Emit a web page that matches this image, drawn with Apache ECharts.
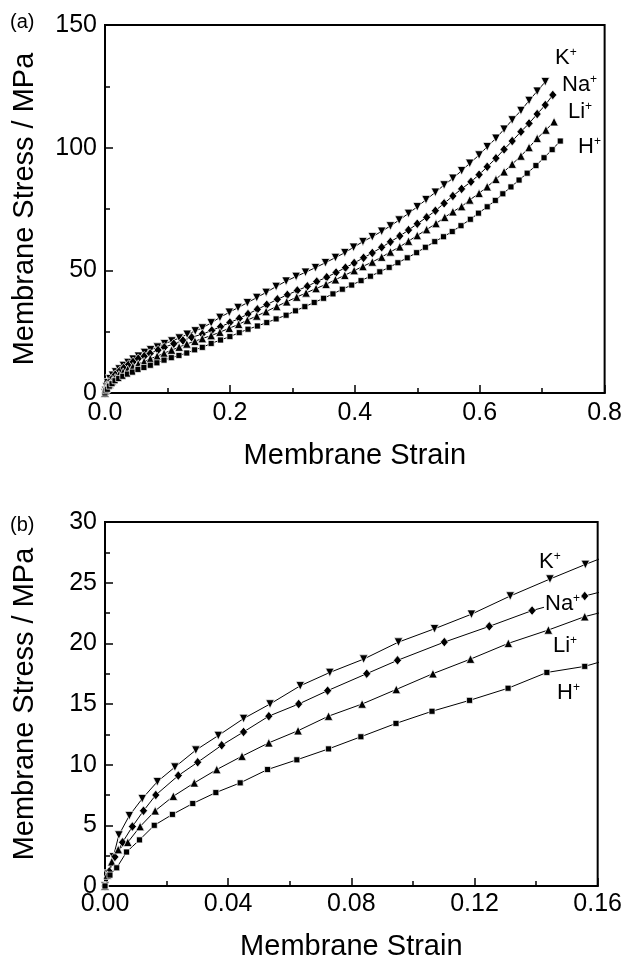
<!DOCTYPE html>
<html><head><meta charset="utf-8">
<script src="https://cdn.jsdelivr.net/npm/echarts@6/dist/echarts.min.js"></script>
<style>html,body{margin:0;padding:0;background:#fff}#c{width:625px;height:962px}</style>
</head><body><div id="c"></div>
<script>
// ---- Data: panel (a) [strain, stress MPa] ----
const topK = [[0,0],[0.001,1.0],[0.0027,2.4],[0.0045,4.2],[0.0079,5.8],[0.0121,7.2],[0.017,8.6],[0.0227,9.8],[0.0295,11.2],[0.0368,12.4],[0.045,13.8],[0.0536,15.0],[0.0634,16.5],[0.073,17.6],[0.084,18.7],[0.0953,20.1],[0.107,21.2],[0.119,22.4],[0.1316,23.9],[0.1445,25.3],[0.156,26.5],[0.17,28.6],[0.184,30.8],[0.199,32.9],[0.213,34.8],[0.228,36.8],[0.243,38.9],[0.258,41.0],[0.274,43.4],[0.29,45.6],[0.306,47.5],[0.321,49.2],[0.337,51.1],[0.353,53.1],[0.369,55.2],[0.384,57.2],[0.398,59.4],[0.413,61.7],[0.428,63.7],[0.443,65.9],[0.457,68.1],[0.471,70.5],[0.486,73.2],[0.5,75.9],[0.514,78.8],[0.529,81.8],[0.543,84.8],[0.557,87.5],[0.571,90.6],[0.584,93.6],[0.599,97.0],[0.612,100.4],[0.626,103.8],[0.639,107.5],[0.652,111.3],[0.666,115.1],[0.679,119.2],[0.692,123.0],[0.705,126.9]];
const topNa = [[0,0],[0.0014,1.2],[0.0032,2.4],[0.0057,3.6],[0.0089,4.9],[0.0125,6.2],[0.0165,7.5],[0.0238,9.1],[0.0301,10.2],[0.0379,11.6],[0.045,12.7],[0.0532,14.0],[0.0629,15.0],[0.0723,16.1],[0.085,17.5],[0.095,18.6],[0.1102,20.1],[0.1248,21.4],[0.1387,22.7],[0.1558,24.0],[0.171,25.5],[0.185,27.0],[0.2,28.7],[0.215,30.4],[0.229,32.2],[0.244,34.1],[0.259,36.0],[0.276,38.2],[0.292,40.0],[0.308,41.8],[0.324,43.5],[0.339,45.4],[0.355,47.2],[0.37,49.1],[0.385,51.1],[0.399,53.0],[0.414,55.1],[0.428,57.1],[0.443,59.4],[0.457,61.6],[0.472,64.0],[0.486,66.4],[0.5,69.0],[0.515,71.6],[0.529,74.3],[0.543,77.3],[0.557,80.3],[0.571,83.2],[0.586,86.1],[0.599,89.0],[0.612,92.2],[0.626,95.7],[0.639,99.3],[0.652,102.7],[0.666,106.5],[0.679,109.9],[0.692,113.7],[0.705,117.4],[0.717,121.5]];
const topLi = [[0,0],[0.0008,0.9],[0.0022,2.0],[0.0043,3.0],[0.0074,3.6],[0.0114,4.9],[0.0163,6.2],[0.0222,7.4],[0.029,8.5],[0.0363,9.6],[0.0445,10.7],[0.0532,11.8],[0.0627,12.8],[0.0726,14.0],[0.0835,15.0],[0.0946,16.2],[0.1065,17.5],[0.1187,18.7],[0.131,20.0],[0.144,21.1],[0.1558,22.2],[0.17,23.4],[0.184,24.8],[0.199,26.4],[0.214,28.0],[0.228,29.7],[0.243,31.4],[0.258,33.2],[0.275,35.3],[0.291,37.2],[0.307,39.1],[0.322,40.8],[0.338,42.6],[0.354,44.3],[0.369,46.2],[0.384,48.0],[0.399,49.9],[0.413,51.6],[0.428,53.4],[0.443,55.4],[0.457,57.5],[0.472,59.6],[0.486,61.9],[0.5,64.2],[0.515,66.6],[0.53,69.1],[0.544,71.6],[0.557,73.9],[0.571,76.0],[0.584,78.7],[0.599,81.4],[0.612,84.1],[0.626,87.1],[0.639,90.2],[0.652,93.3],[0.666,96.6],[0.679,100.1],[0.692,103.8],[0.706,107.2],[0.719,110.6]];
const topH = [[0,0],[0.0016,0.9],[0.0038,1.5],[0.007,2.8],[0.0112,3.8],[0.016,5.0],[0.0219,5.9],[0.0285,6.8],[0.036,7.7],[0.0439,8.5],[0.0528,9.6],[0.0623,10.4],[0.0726,11.3],[0.0831,12.3],[0.0945,13.4],[0.1062,14.4],[0.1184,15.3],[0.1309,16.3],[0.1435,17.6],[0.1558,18.6],[0.17,20.2],[0.185,21.6],[0.2,23.0],[0.215,24.6],[0.229,26.0],[0.244,27.3],[0.259,28.7],[0.274,30.2],[0.29,31.7],[0.305,33.5],[0.32,35.2],[0.335,36.9],[0.35,38.6],[0.365,40.4],[0.38,42.3],[0.395,44.0],[0.41,45.8],[0.425,47.6],[0.44,49.4],[0.455,51.2],[0.469,53.1],[0.484,55.1],[0.499,57.2],[0.513,59.4],[0.528,61.7],[0.542,63.7],[0.556,65.8],[0.57,68.2],[0.585,70.8],[0.598,73.3],[0.612,75.9],[0.625,78.5],[0.637,81.2],[0.65,84.0],[0.663,86.8],[0.676,89.6],[0.69,92.7],[0.703,95.9],[0.716,99.2],[0.729,102.7]];

// ---- Data: panel (b) [strain, stress MPa] ----
const botK = [[0,0],[0.0011,1.0],[0.0027,2.4],[0.0045,4.2],[0.0079,5.8],[0.0121,7.2],[0.017,8.6],[0.0227,9.8],[0.0295,11.2],[0.0368,12.4],[0.045,13.8],[0.0536,15.0],[0.0634,16.5],[0.073,17.6],[0.084,18.7],[0.0953,20.1],[0.107,21.2],[0.119,22.4],[0.1316,23.9],[0.1445,25.3],[0.156,26.5],[0.168,27.7]];
const botNa = [[0,0],[0.0014,1.2],[0.0032,2.4],[0.0057,3.6],[0.0089,4.9],[0.0125,6.2],[0.0165,7.5],[0.0238,9.1],[0.0301,10.2],[0.0379,11.6],[0.045,12.7],[0.0532,14.0],[0.0629,15.0],[0.0723,16.1],[0.085,17.5],[0.095,18.6],[0.1102,20.1],[0.1248,21.4],[0.1387,22.7],[0.1558,23.9],[0.168,24.7]];
const botLi = [[0,0],[0.00075,0.9],[0.0022,2.0],[0.0043,3.0],[0.0074,3.6],[0.0114,4.9],[0.0163,6.2],[0.0222,7.4],[0.029,8.5],[0.0363,9.6],[0.0445,10.7],[0.0532,11.8],[0.0627,12.8],[0.0726,14.0],[0.0835,15.0],[0.0946,16.2],[0.1065,17.5],[0.1187,18.7],[0.131,20.0],[0.144,21.1],[0.1558,22.2],[0.168,23.0]];
const botH = [[0,0],[0.0016,0.9],[0.0038,1.5],[0.007,2.8],[0.0112,3.8],[0.016,5.0],[0.0219,5.9],[0.0285,6.8],[0.036,7.7],[0.0439,8.5],[0.0528,9.6],[0.0623,10.4],[0.0726,11.3],[0.0831,12.3],[0.0945,13.4],[0.1062,14.4],[0.1184,15.3],[0.1309,16.3],[0.1435,17.6],[0.1558,18.1],[0.168,19.0]];

const ions = ['K', 'Na', 'Li', 'H'];
const xTitle = 'Membrane Strain';
const yTitle = 'Membrane Stress / MPa';

const FONT = '"Liberation Sans", Arial, Helvetica, sans-serif';
const chart = echarts.init(document.getElementById('c'), null, {renderer: 'canvas'});

function xAx(gi, max, interval, dec, margin, gap) {
  return {
    type: 'value', gridIndex: gi, min: 0, max: max, interval: interval,
    name: xTitle, nameLocation: 'middle', nameGap: gap,
    nameTextStyle: {fontSize: 29, color: '#000', fontFamily: FONT},
    axisLine: {show: true, onZero: false, lineStyle: {color: '#000', width: 2}},
    axisTick: {show: true, inside: true, length: 8, lineStyle: {color: '#000', width: 1.5}},
    minorTick: {show: true, splitNumber: 2, length: 5, lineStyle: {color: '#000', width: 1.5}},
    axisLabel: {fontSize: 25, color: '#000', fontFamily: FONT, margin: margin,
      formatter: v => v.toFixed(dec)},
    splitLine: {show: false}, minorSplitLine: {show: false}
  };
}
function yAx(gi, max, interval, gap) {
  return {
    type: 'value', gridIndex: gi, min: 0, max: max, interval: interval,
    name: yTitle, nameLocation: 'middle', nameGap: gap,
    nameTextStyle: {fontSize: 29, color: '#000', fontFamily: FONT},
    axisLine: {show: true, onZero: false, lineStyle: {color: '#000', width: 2}},
    axisTick: {show: true, inside: true, length: 8, lineStyle: {color: '#000', width: 1.5}},
    minorTick: {show: true, splitNumber: 2, length: 5, lineStyle: {color: '#000', width: 1.5}},
    axisLabel: {fontSize: 25, color: '#000', fontFamily: FONT, margin: 8},
    splitLine: {show: false}, minorSplitLine: {show: false}
  };
}

const symbols = {
  K: {symbol: 'triangle', symbolRotate: 180, symbolSize: 8.5},
  Na: {symbol: 'diamond', symbolSize: [8, 9.5]},
  Li: {symbol: 'triangle', symbolSize: 8.5},
  H: {symbol: 'rect', symbolSize: 6}
};
const topData = {K: topK, Na: topNa, Li: topLi, H: topH};
const botData = {K: botK, Na: botNa, Li: botLi, H: botH};

const series = [];
ions.forEach(ion => {
  [[0, topData], [1, botData]].forEach(([gi, src]) => {
    series.push(Object.assign({
      type: 'line', name: ion + gi, xAxisIndex: gi, yAxisIndex: gi,
      data: src[ion], showAllSymbol: true, clip: true, smooth: false,
      lineStyle: {color: '#000', width: 1},
      itemStyle: {color: '#000', borderColor: '#fff', borderWidth: 0.7},
      emphasis: {disabled: true}, z: 3
    }, symbols[ion]));
  });
});

function ionLabel(ion, x, y) {
  return {
    type: 'text', x: x, y: y, z: 100,
    style: {
      text: '{m|' + ion + '}{s|+}',
      textVerticalAlign: 'middle', verticalAlign: 'middle', textAlign: 'left',
      backgroundColor: '#fff', padding: [0, 1],
      rich: {
        m: {fontSize: 22, fontFamily: FONT, fill: '#000', color: '#000'},
        s: {fontSize: 12, fontFamily: FONT, fill: '#000', color: '#000', verticalAlign: 'top'}
      }
    }
  };
}

chart.setOption({
  animation: false,
  backgroundColor: '#fff',
  grid: [
    {left: 105, top: 25, width: 500, height: 368, show: true, borderColor: '#000', borderWidth: 2, backgroundColor: 'transparent'},
    {left: 105, top: 522, width: 493, height: 364, show: true, borderColor: '#000', borderWidth: 2, backgroundColor: 'transparent'}
  ],
  xAxis: [xAx(0, 0.8, 0.2, 1, 8, 48), xAx(1, 0.16, 0.04, 2, 6, 46)],
  yAxis: [yAx(0, 150, 50, 66), yAx(1, 30, 5, 66)],
  series: series,
  graphic: [
    {type: 'text', x: 10, y: 22, z: 100, style: {text: '(a)', fontSize: 20, fontFamily: FONT, fill: '#000', textVerticalAlign: 'middle', verticalAlign: 'middle'}},
    {type: 'text', x: 10, y: 525, z: 100, style: {text: '(b)', fontSize: 20, fontFamily: FONT, fill: '#000', textVerticalAlign: 'middle', verticalAlign: 'middle'}},
    ionLabel('K', 554, 58), ionLabel('Na', 561, 85), ionLabel('Li', 567, 112), ionLabel('H', 577, 147),
    ionLabel('K', 538, 562), ionLabel('Na', 544, 604), ionLabel('Li', 552, 646), ionLabel('H', 556, 693)
  ]
});
</script>
</body></html>
